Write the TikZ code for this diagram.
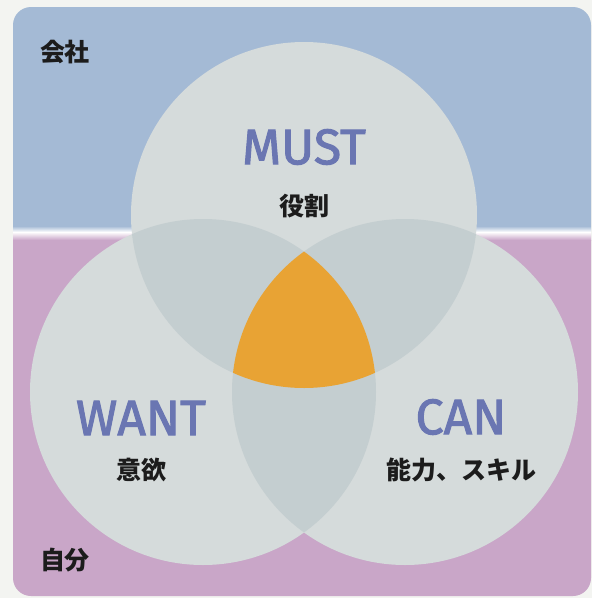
\documentclass[tikz,border=0pt]{standalone}
\usepackage{fontspec}
\newfontfamily\jp{Noto Sans CJK JP}
\newfontfamily\lat{Fira Sans}[FakeBold=2]
\definecolor{paper}{HTML}{F3F4F1}
\definecolor{bluebg}{HTML}{A4BAD5}
\definecolor{pinkbg}{HTML}{C9A6C8}
\definecolor{circ}{HTML}{D5DBDB}
\definecolor{dbl}{HTML}{C4CED0}
\definecolor{tri}{HTML}{E8A334}
\definecolor{ttl}{HTML}{6A76B2}
\definecolor{ink}{HTML}{1C1C1C}
\tikzset{
  bigtxt/.style={font=\lat\fontsize{50}{50}\selectfont, text=ttl, inner sep=0},
  jptxt/.style={font=\jp\bfseries\fontsize{25}{25}\selectfont, text=ink, inner sep=0},
  setcircle/.style={circle, minimum size=346pt, inner sep=0, fill=circ}
}
\begin{document}
\begin{tikzpicture}[x=1pt,y=-1pt]
\useasboundingbox (0,0) rectangle (592,598);
\fill[paper] (0,0) rectangle (592,598);
\begin{scope}
  \clip[rounded corners=18pt] (13,7) rectangle (591,596);
  \fill[bluebg] (0,0) rectangle (592,226);
  \shade[top color=bluebg,bottom color=white] (0,226) rectangle (592,232);
  \shade[top color=white,bottom color=pinkbg] (0,232) rectangle (592,240);
  \fill[pinkbg] (0,240) rectangle (592,598);
\end{scope}
% circles
\node[setcircle] (must) at (304,215) {};
\node[setcircle] (want) at (203,392) {};
\node[setcircle] (can) at (405,392) {};
% pairwise overlaps
\begin{scope}
  \clip (304,215) circle[radius=173pt];
  \fill[dbl] (203,392) circle[radius=173pt];
  \fill[dbl] (405,392) circle[radius=173pt];
\end{scope}
\begin{scope}
  \clip (203,392) circle[radius=173pt];
  \fill[dbl] (405,392) circle[radius=173pt];
\end{scope}
% triple overlap
\begin{scope}
  \clip (304,215) circle[radius=173pt];
  \clip (203,392) circle[radius=173pt];
  \fill[tri] (405,392) circle[radius=173pt];
\end{scope}
% labels
\node[jptxt] (kaisha) at (65,52) {会社};
\node[jptxt] (jibun) at (65,560) {自分};
\node[bigtxt] (mustt) at (304,147) {MUST};
\node[jptxt] (yakuwari) at (304,206) {役割};
\node[bigtxt] (wantt) at (141,418) {WANT};
\node[jptxt] (iyoku) at (141,470) {意欲};
\node[bigtxt] (cant) at (461,417) {CAN};
\node[jptxt] (skill) at (461,470) {能力、スキル};
\end{tikzpicture}
\end{document}
